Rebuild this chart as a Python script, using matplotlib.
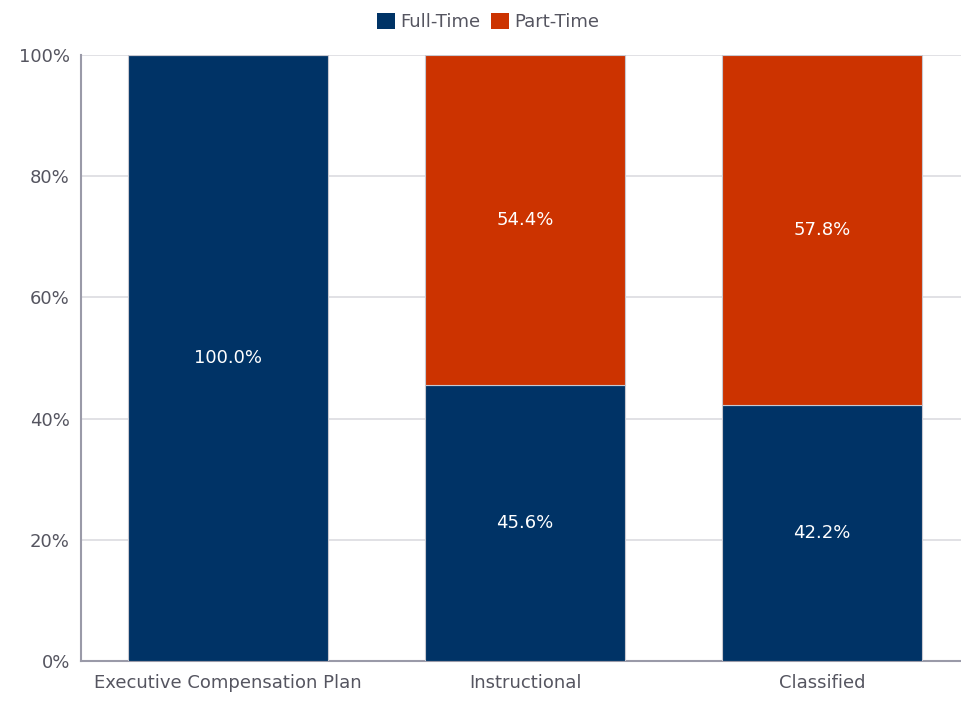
import matplotlib
matplotlib.use("Agg")
import matplotlib.pyplot as plt
import numpy as np

categories = ["Executive Compensation Plan", "Instructional", "Classified"]
full_time = [100.0, 45.6, 42.2]
part_time = [0.0, 54.4, 57.8]
yticks = [0, 20, 40, 60, 80, 100]

navy = "#003366"
orange = "#cc3300"
text_col = "#555560"
fs = 13

fig = plt.figure(figsize=(9.61, 7.02), dpi=100)
ax = fig.add_axes([0.0843, 0.0584, 0.9157, 0.8633])

x = np.arange(len(categories))
w = 0.673
b1 = ax.bar(x, full_time, w, color=navy, edgecolor="#c8c8d0", linewidth=0.8,
            label="Full-Time", zorder=3)
b2 = ax.bar(x, part_time, w, bottom=full_time, color=orange, edgecolor="#c8c8d0",
            linewidth=0.8, label="Part-Time", zorder=3)

for i in range(len(categories)):
    if full_time[i] > 0:
        ax.text(x[i], full_time[i] / 2, f"{full_time[i]:.1f}%", ha="center", va="center",
                color="white", fontsize=fs, zorder=4)
    if part_time[i] > 0:
        ax.text(x[i], full_time[i] + part_time[i] / 2, f"{part_time[i]:.1f}%", ha="center",
                va="center", color="white", fontsize=fs, zorder=4)

ax.set_xlim(-0.495, 2.468)
ax.set_ylim(0, 100)
ax.set_yticks(yticks)
ax.set_yticklabels([f"{v}%" for v in yticks])
ax.set_xticks(x)
ax.set_xticklabels(categories)
ax.tick_params(axis="both", length=0, labelsize=fs, colors=text_col)
ax.tick_params(axis="x", pad=9)
ax.tick_params(axis="y", pad=8)
ax.yaxis.grid(True, color="#dcdce0", linewidth=1.2, zorder=0)
ax.set_axisbelow(True)
for s in ["top", "right"]:
    ax.spines[s].set_visible(False)
ax.spines["left"].set_color("#9a9aa8")
ax.spines["bottom"].set_color("#9a9aa8")
ax.spines["left"].set_linewidth(1.5)
ax.spines["bottom"].set_linewidth(1.5)

leg = fig.legend(handles=[b1, b2], loc="upper center", bbox_to_anchor=(0.508, 1.005),
                 ncol=2, frameon=False, fontsize=fs, handlelength=1.0, handleheight=1.0,
                 handletextpad=0.3, columnspacing=0.6, labelcolor=text_col)
for h in leg.legend_handles:
    h.set_edgecolor("none")

fig.savefig("out.png", dpi=100)
